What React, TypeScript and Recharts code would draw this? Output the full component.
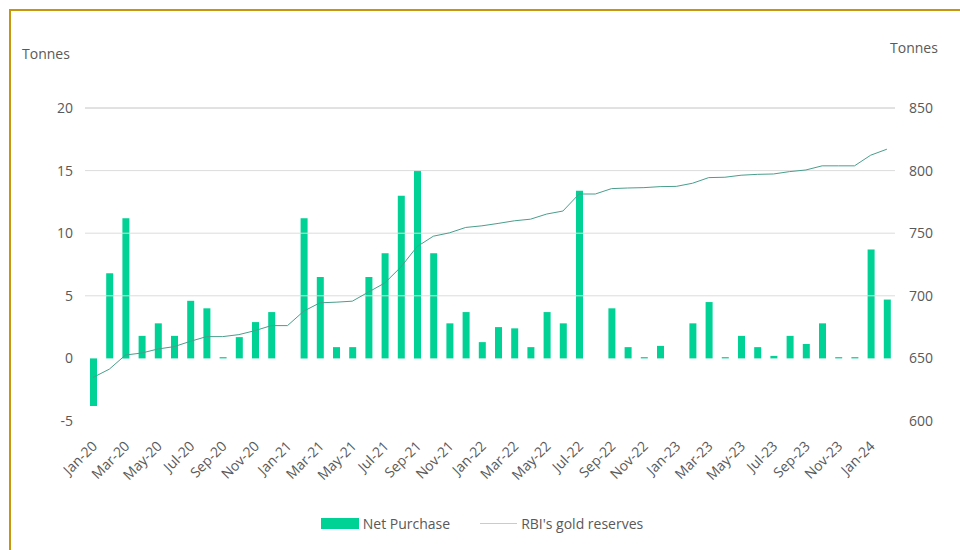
import React from "react";
import {
  ComposedChart,
  Bar,
  Line,
  XAxis,
  YAxis,
  ReferenceLine,
  Legend,
} from "recharts";

const months = [
  "Jan-20", "Feb-20", "Mar-20", "Apr-20", "May-20", "Jun-20", "Jul-20", "Aug-20", "Sep-20", "Oct-20", "Nov-20", "Dec-20",
  "Jan-21", "Feb-21", "Mar-21", "Apr-21", "May-21", "Jun-21", "Jul-21", "Aug-21", "Sep-21", "Oct-21", "Nov-21", "Dec-21",
  "Jan-22", "Feb-22", "Mar-22", "Apr-22", "May-22", "Jun-22", "Jul-22", "Aug-22", "Sep-22", "Oct-22", "Nov-22", "Dec-22",
  "Jan-23", "Feb-23", "Mar-23", "Apr-23", "May-23", "Jun-23", "Jul-23", "Aug-23", "Sep-23", "Oct-23", "Nov-23", "Dec-23",
  "Jan-24", "Feb-24",
];

const netPurchase = [
  -3.8, 6.8, 11.2, 1.8, 2.8, 1.8, 4.6, 4.0, 0.1, 1.7, 2.9, 3.7,
  0, 11.2, 6.5, 0.9, 0.9, 6.5, 8.4, 13.0, 15.0, 8.4, 2.8, 3.7,
  1.3, 2.5, 2.4, 0.9, 3.7, 2.8, 13.4, 0, 4.0, 0.9, 0.1, 1.0,
  0, 2.8, 4.5, 0.1, 1.8, 0.9, 0.2, 1.8, 1.15, 2.8, 0.1, 0.1,
  8.7, 4.7,
];

const goldReserves = [
  634.8, 641.4, 652.7, 654.3, 657.5, 659.4, 663.6, 667.4, 667.4, 669.0, 672.2, 676.2,
  676.2, 687.7, 694.4, 694.9, 695.7, 703.0, 710.2, 723.0, 739.3, 747.6, 750.3, 754.6,
  755.9, 757.8, 759.9, 761.2, 765.3, 767.7, 781.3, 781.3, 785.6, 786.1, 786.4, 787.2,
  787.4, 789.9, 794.4, 794.7, 796.3, 797.0, 797.3, 799.2, 800.5, 803.8, 803.8, 803.8,
  812.3, 817.1,
];

const leftTicks = [-5, 0, 5, 10, 15, 20];
const rightTicks = [600, 650, 700, 750, 800, 850];
const gridValues = [5, 10, 15, 20];

const data = months.map((m, i) => ({
  month: m,
  net: netPurchase[i],
  reserves: goldReserves[i],
}));

const FONT = "'Open Sans', 'Noto Sans', sans-serif";
const TEXT = "#595959";
const BAR = "#00d194";
const LINE = "#4a9e8c";

const XTick = (props: any) => {
  const { x, y, payload, index } = props;
  if (index % 2 !== 0) return null;
  const ax = x + 5;
  const ay = y + 18;
  return (
    <text
      x={ax}
      y={ay}
      transform={`rotate(-45 ${ax} ${ay})`}
      textAnchor="end"
      fontSize={14}
      fontFamily={FONT}
      fill={TEXT}
    >
      {payload.value}
    </text>
  );
};

const LegendContent = () => (
  <div
    style={{
      display: "flex",
      justifyContent: "center",
      alignItems: "center",
      fontFamily: FONT,
      fontSize: 14,
      color: TEXT,
      paddingLeft: 4,
    }}
  >
    <span style={{ display: "inline-block", width: 38, height: 11, background: BAR, marginRight: 4 }} />
    <span style={{ marginRight: 30 }}>Net Purchase</span>
    <span style={{ display: "inline-block", width: 37, height: 1, background: "#a8dcd0", marginRight: 4 }} />
    <span>RBI's gold reserves</span>
  </div>
);

export default function App() {
  return (
    <div
      style={{
        position: "absolute",
        left: 0,
        top: 0,
        width: 960,
        height: 550,
        background: "#fff",
        overflow: "hidden",
      }}
    >
      <div
        style={{
          position: "absolute",
          left: 9,
          top: 9,
          right: -5,
          bottom: -5,
          borderLeft: "2px solid #c8960c",
          borderTop: "2px solid #c8960c",
        }}
      />
      <div
        style={{
          position: "absolute",
          left: 22,
          top: 44,
          fontFamily: FONT,
          fontSize: 14,
          color: TEXT,
        }}
      >
        Tonnes
      </div>
      <div
        style={{
          position: "absolute",
          left: 890,
          top: 38,
          fontFamily: FONT,
          fontSize: 14,
          color: TEXT,
        }}
      >
        Tonnes
      </div>
      <div style={{ position: "absolute", left: 0, top: 0 }}>
        <ComposedChart
          width={960}
          height={550}
          data={data}
          margin={{ top: 108, right: 0, bottom: 40, left: 0 }}
          barCategoryGap={0}
        >
          <XAxis
            dataKey="month"
            interval={0}
            axisLine={false}
            tickLine={false}
            height={70}
            tick={<XTick />}
          />
          <YAxis
            yAxisId="left"
            orientation="left"
            width={85}
            domain={[-5, 20]}
            ticks={leftTicks}
            axisLine={false}
            tickLine={false}
            tickMargin={6}
            tick={{ fontSize: 14, fill: TEXT, fontFamily: FONT }}
          />
          <YAxis
            yAxisId="right"
            orientation="right"
            width={65}
            domain={[600, 850]}
            ticks={rightTicks}
            axisLine={false}
            tickLine={false}
            tickMargin={8}
            tick={{ fontSize: 14, fill: TEXT, fontFamily: FONT }}
          />
          {gridValues.map((v) => (
            <ReferenceLine
              key={v}
              yAxisId="left"
              y={v}
              stroke={v === 20 ? "#c4c4c4" : "#dcdcdc"}
              strokeWidth={1}
            />
          ))}
          <Bar
            yAxisId="left"
            dataKey="net"
            fill={BAR}
            barSize={7}
            isAnimationActive={false}
          />
          <Line
            yAxisId="right"
            dataKey="reserves"
            type="linear"
            stroke={LINE}
            strokeWidth={1}
            dot={false}
            activeDot={false}
            isAnimationActive={false}
          />
          <Legend
            content={<LegendContent />}
            wrapperStyle={{ position: "absolute", top: 514, left: 0, width: 960, bottom: "auto" }}
          />
        </ComposedChart>
      </div>
    </div>
  );
}
